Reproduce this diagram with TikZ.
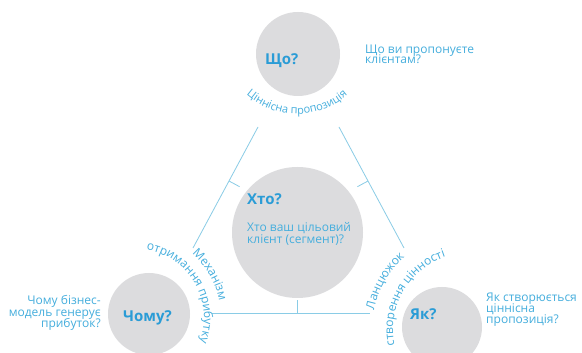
\documentclass[tikz,border=0pt]{standalone}
\usepackage{fontspec}
\setmainfont{Open Sans}
\usetikzlibrary{decorations.text,calc}
\definecolor{cgray}{HTML}{DCDCDE}
\definecolor{hblue}{HTML}{2A9CD6}
\definecolor{tblue}{HTML}{45AEDD}
\definecolor{lblue}{HTML}{8ACCE6}
\newcommand\curvefont{\fontsize{11}{11}\selectfont}
\newcommand\curvefontb{\fontsize{12}{12}\selectfont}
\begin{document}
\begin{tikzpicture}[x=1pt,y=1pt,
  bubble/.style={circle, fill=cgray, inner sep=0pt},
  head/.style={text=hblue, font=\bfseries\fontsize{15}{15}\selectfont, inner sep=0pt},
  desc/.style={text=tblue, font=\fontsize{12}{12}\selectfont, inner sep=0pt},
  conn/.style={draw=lblue, line width=0.8pt},
  curved/.style={decorate, decoration={text along path, text align=center, text color=tblue, text={#1}}}
]
\useasboundingbox (0,0) rectangle (582,353);
\clip (0,0) rectangle (582,353);
\fill[white] (0,0) rectangle (582,353);

% connector end points
\coordinate (L1) at (258,226); \coordinate (L2) at (193,105);
\coordinate (R1) at (339,226); \coordinate (R2) at (404,105);
\coordinate (B1) at (212,40);  \coordinate (B2) at (370,40);
\coordinate (TL1) at (229,172); \coordinate (TL2) at (239.6,166.3);
\coordinate (TR1) at (368,172); \coordinate (TR2) at (357.4,166.3);
\coordinate (TB1) at (297.5,40); \coordinate (TB2) at (297.5,53);

\draw[conn] (L1) -- (L2);
\draw[conn] (R1) -- (R2);
\draw[conn] (B1) -- (B2);
\draw[conn] (TL1) -- (TL2);
\draw[conn] (TR1) -- (TR2);
\draw[conn] (TB1) -- (TB2);

% circles
\node[bubble, minimum size=84pt] (what) at (298,299) {};
\node[bubble, minimum size=131pt] (who) at (297.5,120.5) {};
\node[bubble, minimum size=82pt] (why) at (149,39) {};
\node[bubble, minimum size=80pt] (how) at (442,26) {};

% headings
\node[head, anchor=base west] (whatH) at (265,288) {Що?};
\node[head, anchor=base west] (whoH) at (247,148) {Хто?};
\node[head, anchor=base west] (whyH) at (123,31) {Чому?};
\node[head, anchor=base west] (howH) at (410,33) {Як?};

% descriptions
\node[desc, anchor=base west] (whatD1) at (365,299) {Що ви пропонуєте};
\node[desc, anchor=base west] (whatD2) at (365,289) {клієнтам?};
\node[desc, anchor=base west] (whoD1) at (247,121) {Хто ваш цільовий};
\node[desc, anchor=base west] (whoD2) at (247,109) {клієнт (сегмент)?};
\node[desc, anchor=base east] (whyD1) at (101,48) {Чому бізнес-};
\node[desc, anchor=base east] (whyD2) at (101,36) {модель генерує};
\node[desc, anchor=base east] (whyD3) at (101,25) {прибуток?};
\node[desc, anchor=base west] (howD1) at (486,51) {Як створюється};
\node[desc, anchor=base west] (howD2) at (486,40) {ціннісна};
\node[desc, anchor=base west] (howD3) at (486,29) {пропозиція?};

% curved labels
\coordinate (tarc) at (297,315);
\coordinate (larc) at (135,35);
\coordinate (rarc) at (470,23);
\path[curved={|\curvefont|Ціннісна пропозиція}] ($(tarc)+(200:76)$) arc[start angle=200, end angle=340, radius=76];
\path[curved={|\curvefontb|отримання прибутку}] ($(larc)+(120:69)$) arc[start angle=120, end angle=-60, radius=69];
\path[curved={|\curvefontb|Механізм}] ($(larc)+(120:86)$) arc[start angle=120, end angle=-60, radius=86];
\path[curved={|\curvefontb|створення цінності}] ($(rarc)+(240:77)$) arc[start angle=240, end angle=60, radius=77];
\path[curved={|\curvefontb|Ланцюжок}] ($(rarc)+(240:98)$) arc[start angle=240, end angle=60, radius=98];
\end{tikzpicture}
\end{document}
